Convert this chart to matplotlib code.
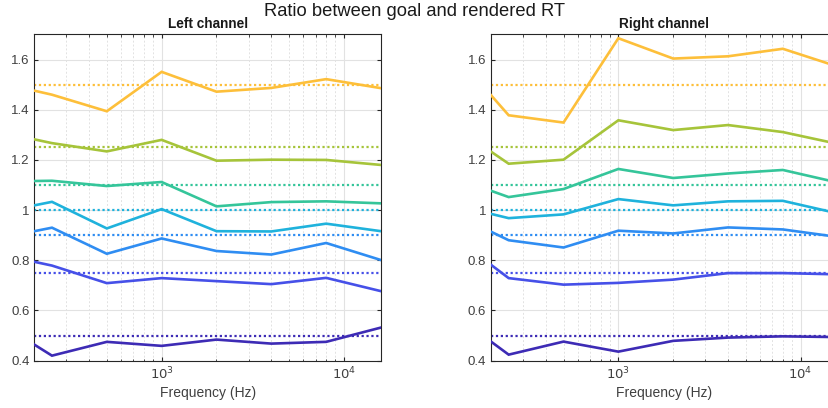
import matplotlib
matplotlib.use("Agg")
import matplotlib.pyplot as plt
from matplotlib.ticker import FixedLocator, LogLocator, NullFormatter

plt.rcParams["font.family"] = ["Liberation Sans", "DejaVu Sans"]

# octave bands (first band drawn from the left axis limit)
freqs = [200, 250, 500, 1000, 2000, 4000, 8000, 16000]
targets = [0.5, 0.75, 0.9, 1.0, 1.1, 1.25, 1.5]
colors = ["#3D2BB5", "#4650E8", "#2F8DF2", "#1FB2DC", "#35C59A", "#A6C43A", "#FDBF3A"]

left_ratio = [
    [0.464, 0.420, 0.475, 0.459, 0.484, 0.468, 0.475, 0.532],
    [0.794, 0.779, 0.709, 0.729, 0.717, 0.705, 0.730, 0.677],
    [0.916, 0.930, 0.826, 0.887, 0.837, 0.823, 0.869, 0.801],
    [1.019, 1.033, 0.927, 1.004, 0.916, 0.915, 0.946, 0.916],
    [1.116, 1.117, 1.096, 1.112, 1.015, 1.032, 1.035, 1.027],
    [1.282, 1.267, 1.234, 1.280, 1.197, 1.201, 1.200, 1.180],
    [1.476, 1.460, 1.394, 1.551, 1.472, 1.487, 1.522, 1.486],
]
right_ratio = [
    [0.476, 0.424, 0.476, 0.436, 0.479, 0.492, 0.497, 0.494],
    [0.782, 0.729, 0.703, 0.710, 0.723, 0.749, 0.749, 0.744],
    [0.914, 0.880, 0.851, 0.918, 0.907, 0.931, 0.923, 0.893],
    [0.985, 0.968, 0.983, 1.044, 1.019, 1.035, 1.037, 0.987],
    [1.077, 1.052, 1.084, 1.164, 1.128, 1.146, 1.160, 1.110],
    [1.233, 1.185, 1.201, 1.358, 1.319, 1.339, 1.311, 1.264],
    [1.458, 1.378, 1.349, 1.685, 1.604, 1.613, 1.643, 1.572],
]
yticks = [0.4, 0.6, 0.8, 1.0, 1.2, 1.4, 1.6]
ytick_labels = ["0.4", "0.6", "0.8", "1", "1.2", "1.4", "1.6"]

TXT = "#404040"

fig = plt.figure(figsize=(8.29, 4.08), dpi=100)
ax_l = fig.add_axes([0.0414, 0.116, 0.4182, 0.7995])
ax_r = fig.add_axes([0.5923, 0.116, 0.4182, 0.7995])


def panel(ax, data, title):
    for vals, tgt, c in zip(data, targets, colors):
        ax.plot(freqs, vals, color=c, lw=1.9, solid_joinstyle="miter", zorder=3)
        ax.axhline(tgt, color=c, lw=1.6, ls=(0, (1, 1.2)), zorder=2)
    ax.set_xscale("log")
    ax.set_xlim(200, 16000)
    ax.set_ylim(0.4, 1.7)
    ax.xaxis.set_major_locator(FixedLocator([1000, 10000]))
    ax.set_xticklabels(["$10^3$", "$10^4$"])
    ax.xaxis.set_minor_locator(LogLocator(base=10, subs=range(2, 10)))
    ax.xaxis.set_minor_formatter(NullFormatter())
    ax.set_yticks(yticks)
    ax.set_yticklabels(ytick_labels)
    ax.grid(True, which="major", color="#E2E2E2", lw=0.8, zorder=0)
    ax.grid(True, which="minor", axis="x", color="#E2E2E2", lw=0.7, ls=(0, (2, 2)), zorder=0)
    ax.set_axisbelow(True)
    ax.tick_params(which="both", direction="in", top=True, right=True, colors="#262626",
                   labelcolor=TXT, labelsize=9.5, length=3)
    ax.tick_params(which="minor", length=1.8)
    for s in ax.spines.values():
        s.set_color("#262626")
        s.set_linewidth(0.8)
    ax.set_xlabel("Frequency (Hz)", color=TXT, fontsize=10, labelpad=3)
    ax.set_title(title, fontsize=9.8, weight="bold", color="#1A1A1A", pad=5)


panel(ax_l, left_ratio, "Left channel")
panel(ax_r, right_ratio, "Right channel")

fig.text(0.5, 0.972, "Ratio between goal and rendered RT", ha="center", va="center",
         fontsize=13.2, color="#1A1A1A")

fig.savefig("out.png", dpi=100)
